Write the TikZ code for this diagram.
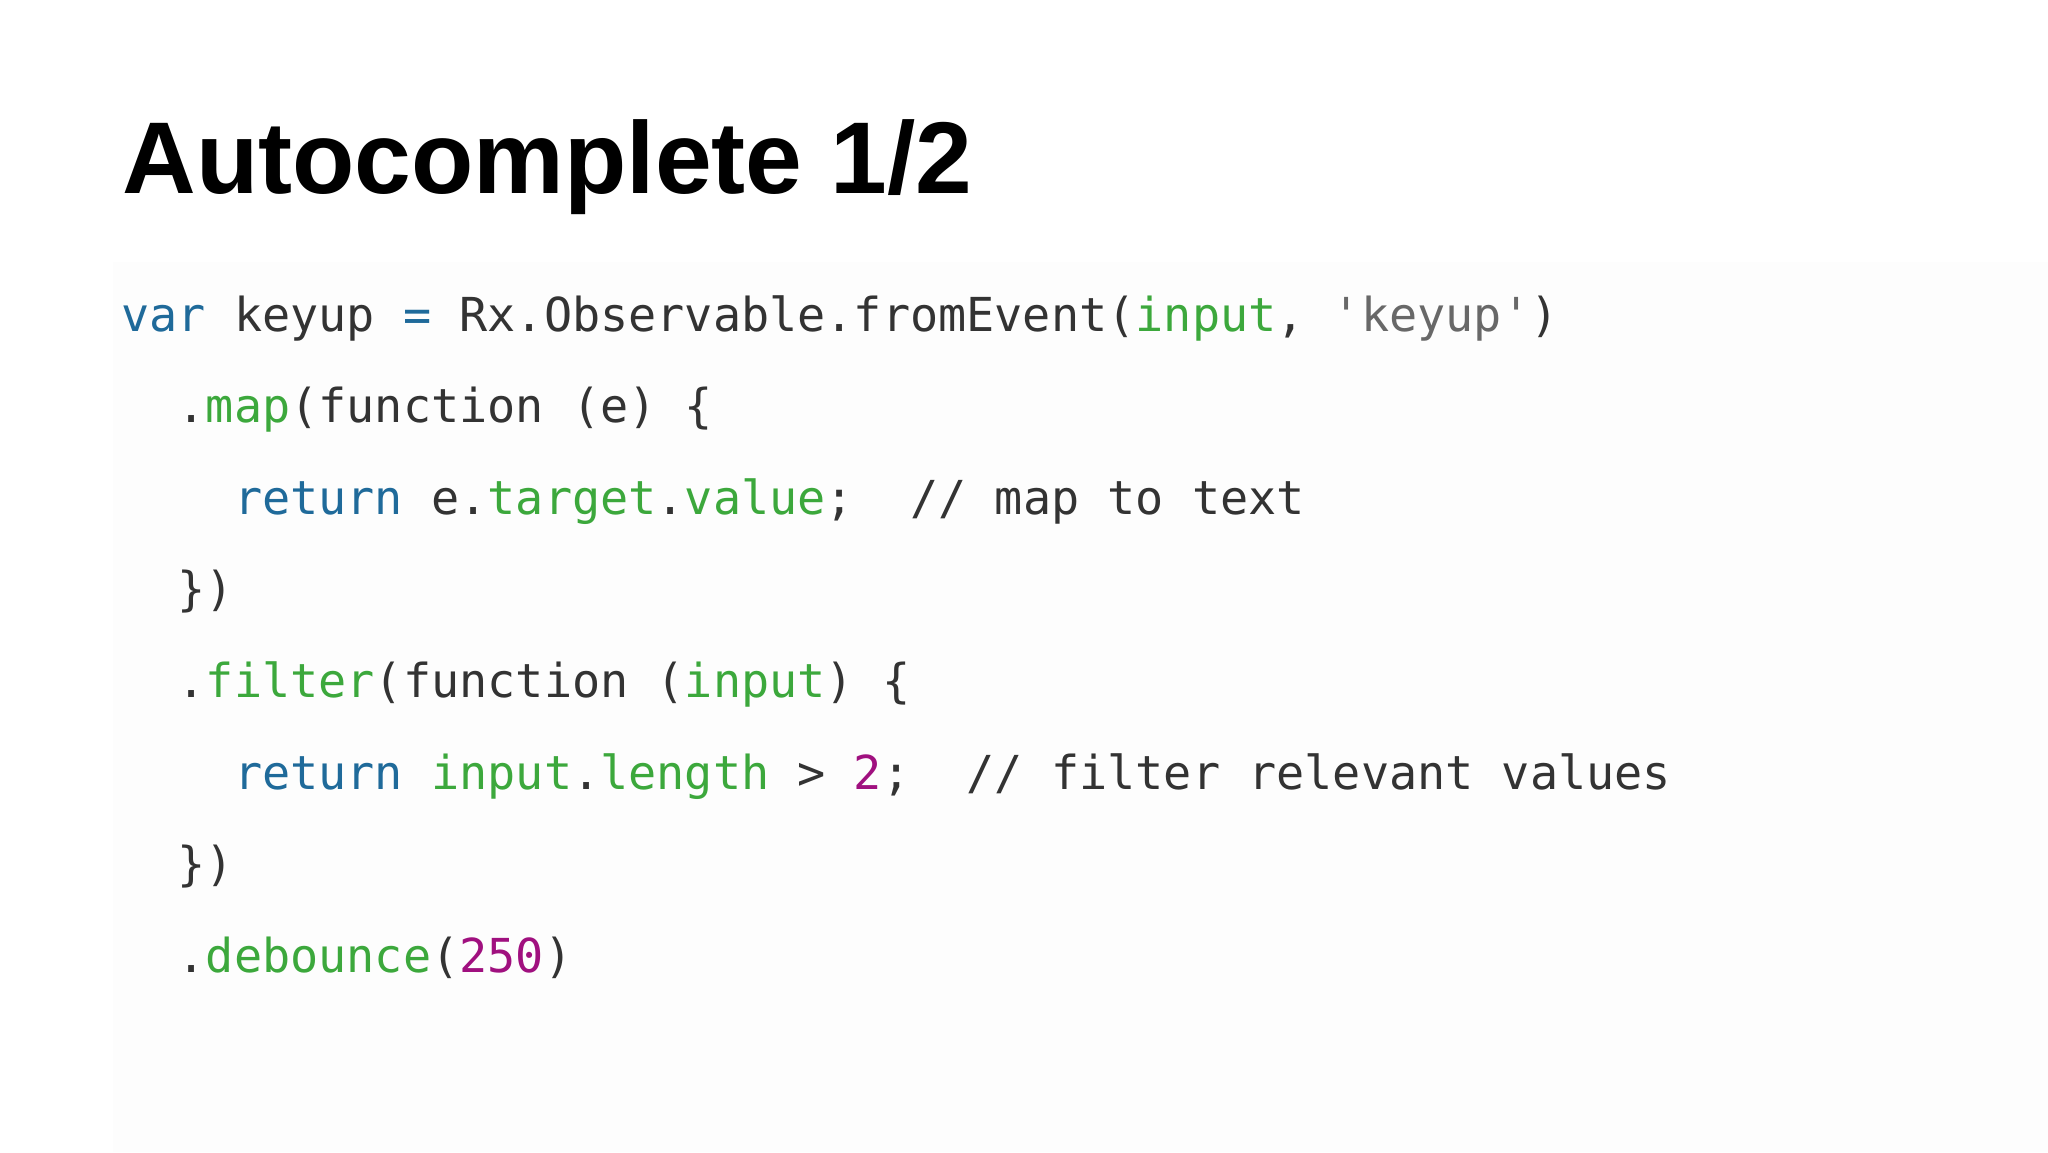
\documentclass[tikz,border=0pt]{standalone}
\usepackage{fontspec}
\setmainfont{Liberation Sans}
\setmonofont{DejaVu Sans Mono}
\definecolor{kwblue}{HTML}{1F6A9A}
\definecolor{fngreen}{HTML}{3CA83C}
\definecolor{nummag}{HTML}{A0107F}
\definecolor{plain}{HTML}{333333}
\definecolor{strgray}{HTML}{686868}
\definecolor{panel}{HTML}{FDFDFD}
\newcommand\kw[1]{\textcolor{kwblue}{#1}}
\newcommand\fn[1]{\textcolor{fngreen}{#1}}
\newcommand\num[1]{\textcolor{nummag}{#1}}
\newcommand\str[1]{\textcolor{strgray}{#1}}
\tikzset{
  title/.style={anchor=base west, inner sep=0pt, font=\fontsize{51}{60}\selectfont\bfseries},
  codeline/.style={anchor=base west, inner sep=0pt, text=plain, font=\ttfamily\fontsize{23.4}{28}\selectfont}
}
\begin{document}
\begin{tikzpicture}[x=0.5pt, y=-0.5pt]
  \useasboundingbox (0,0) rectangle (2048,1152);
  \fill[white] (0,0) rectangle (2048,1152);
  \fill[panel] (113,262) rectangle (2048,1152);
  \node[title] (head) at (122,193) {Autocomplete 1/2};
  % code, one node per line
  \node[codeline] (l1) at (121,331) {\kw{var} keyup \kw{=} Rx.Observable.fromEvent(\fn{input}, \str{'keyup'})};
  \node[codeline] (l2) at (121,422.6) {~~.\fn{map}(function (e) \{};
  \node[codeline] (l3) at (121,514.2) {~~~~\kw{return} e.\fn{target}.\fn{value};~ // map to text};
  \node[codeline] (l4) at (121,605.8) {~~\})};
  \node[codeline] (l5) at (121,697.4) {~~.\fn{filter}(function (\fn{input}) \{};
  \node[codeline] (l6) at (121,789) {~~~~\kw{return} \fn{input}.\fn{length} > \num{2};~ // filter relevant values};
  \node[codeline] (l7) at (121,880.6) {~~\})};
  \node[codeline] (l8) at (121,972.2) {~~.\fn{debounce}(\num{250})};
\end{tikzpicture}
\end{document}
